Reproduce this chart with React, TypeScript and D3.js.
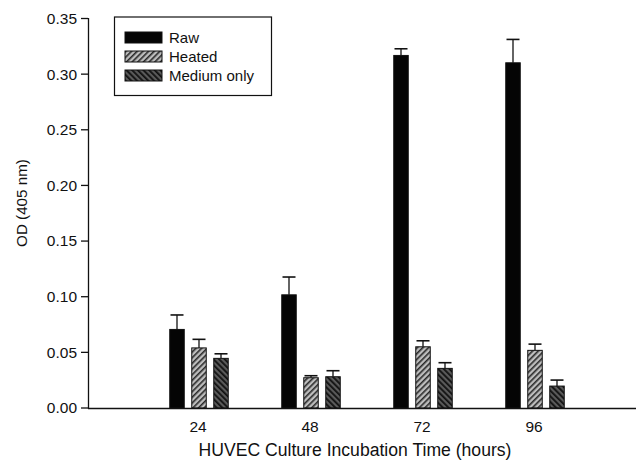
import React from "react";
import * as d3 from "d3";

// Incubation times (hours) and mean OD readings with upward SD bars
const hours = [24, 48, 72, 96];
const seriesNames = ["Raw", "Heated", "Medium only"];
const rawMeans = [0.0706, 0.1017, 0.3168, 0.3102];
const rawErr = [0.013, 0.016, 0.006, 0.021];
const heatedMeans = [0.054, 0.0272, 0.055, 0.0518];
const heatedErr = [0.0077, 0.0018, 0.0054, 0.0056];
const mediumMeans = [0.0446, 0.0281, 0.0356, 0.0197];
const mediumErr = [0.0041, 0.0054, 0.0051, 0.0054];
const yTicks = [0, 0.05, 0.1, 0.15, 0.2, 0.25, 0.3, 0.35];

const W = 636;
const H = 461;
const FONT = "'Liberation Sans', Arial, Helvetica, sans-serif";

export default function App() {
  const x = d3.scaleLinear().domain([0, 120]).range([87, 647]);
  const y = d3.scaleLinear().domain([0, 0.35]).range([408, 18.5]);
  const barW = 14.5;
  const step = 22;
  const capW = 13;

  const series = [
    { name: seriesNames[0], means: rawMeans, err: rawErr, fill: "#050505" },
    { name: seriesNames[1], means: heatedMeans, err: heatedErr, fill: "url(#hatchLight)" },
    { name: seriesNames[2], means: mediumMeans, err: mediumErr, fill: "url(#hatchDark)" },
  ];

  return (
    <svg width={W} height={H} style={{ display: "block", position: "absolute", left: 0, top: 0, background: "#fff" }}>
      <defs>
        <pattern id="hatchLight" patternUnits="userSpaceOnUse" width="4" height="4" patternTransform="rotate(45)">
          <rect width="4" height="4" fill="#bdbdbd" />
          <rect width="1.6" height="4" fill="#2a2a2a" />
        </pattern>
        <pattern id="hatchDark" patternUnits="userSpaceOnUse" width="4" height="4" patternTransform="rotate(-45)">
          <rect width="4" height="4" fill="#5a5a5a" />
          <rect width="1.8" height="4" fill="#111" />
        </pattern>
      </defs>

      {/* bars with error bars */}
      {series.map((s, si) =>
        hours.map((h, i) => {
          const cx = x(h) + (si - 1) * step;
          const top = y(s.means[i]);
          const errTop = y(s.means[i] + s.err[i]);
          return (
            <g key={`${si}-${i}`}>
              <line x1={cx} x2={cx} y1={top} y2={errTop} stroke="#111" strokeWidth={1.3} />
              <line x1={cx - capW / 2} x2={cx + capW / 2} y1={errTop} y2={errTop} stroke="#111" strokeWidth={1.6} />
              <rect x={cx - barW / 2} y={top} width={barW} height={y(0) - top} fill={s.fill} stroke="#111" strokeWidth={1} />
            </g>
          );
        })
      )}

      {/* axes */}
      <line x1={88} x2={636} y1={408.5} y2={408.5} stroke="#111" strokeWidth={1.3} />
      <line x1={88.5} x2={88.5} y1={18} y2={409} stroke="#111" strokeWidth={1.3} />
      {yTicks.map((t) => (
        <g key={t}>
          <line x1={81} x2={88} y1={y(t)} y2={y(t)} stroke="#111" strokeWidth={1.3} />
          <text x={77} y={y(t)} dy="0.35em" textAnchor="end" fontFamily={FONT} fontSize={15.5} fill="#111">
            {d3.format(".2f")(t)}
          </text>
        </g>
      ))}
      {hours.map((h) => (
        <text key={h} x={x(h) - 1} y={432} textAnchor="middle" fontFamily={FONT} fontSize={15.5} fill="#111">
          {h}
        </text>
      ))}

      <text x={355} y={456} textAnchor="middle" fontFamily={FONT} fontSize={17.6} fill="#111">
        HUVEC Culture Incubation Time (hours)
      </text>
      <text transform="translate(27,203) rotate(-90)" textAnchor="middle" fontFamily={FONT} fontSize={15.2} fill="#111">
        OD (405 nm)
      </text>

      {/* legend */}
      <rect x={114.5} y={17} width={157} height={78.5} fill="#fff" stroke="#111" strokeWidth={1.2} />
      {series.map((s, i) => (
        <g key={s.name} transform={`translate(125, ${32 + i * 19})`}>
          <rect x={0} y={0} width={37} height={11} fill={s.fill} stroke="#111" strokeWidth={1} />
          <text x={44} y={10.5} fontFamily={FONT} fontSize={15} fill="#111">
            {s.name}
          </text>
        </g>
      ))}
    </svg>
  );
}
